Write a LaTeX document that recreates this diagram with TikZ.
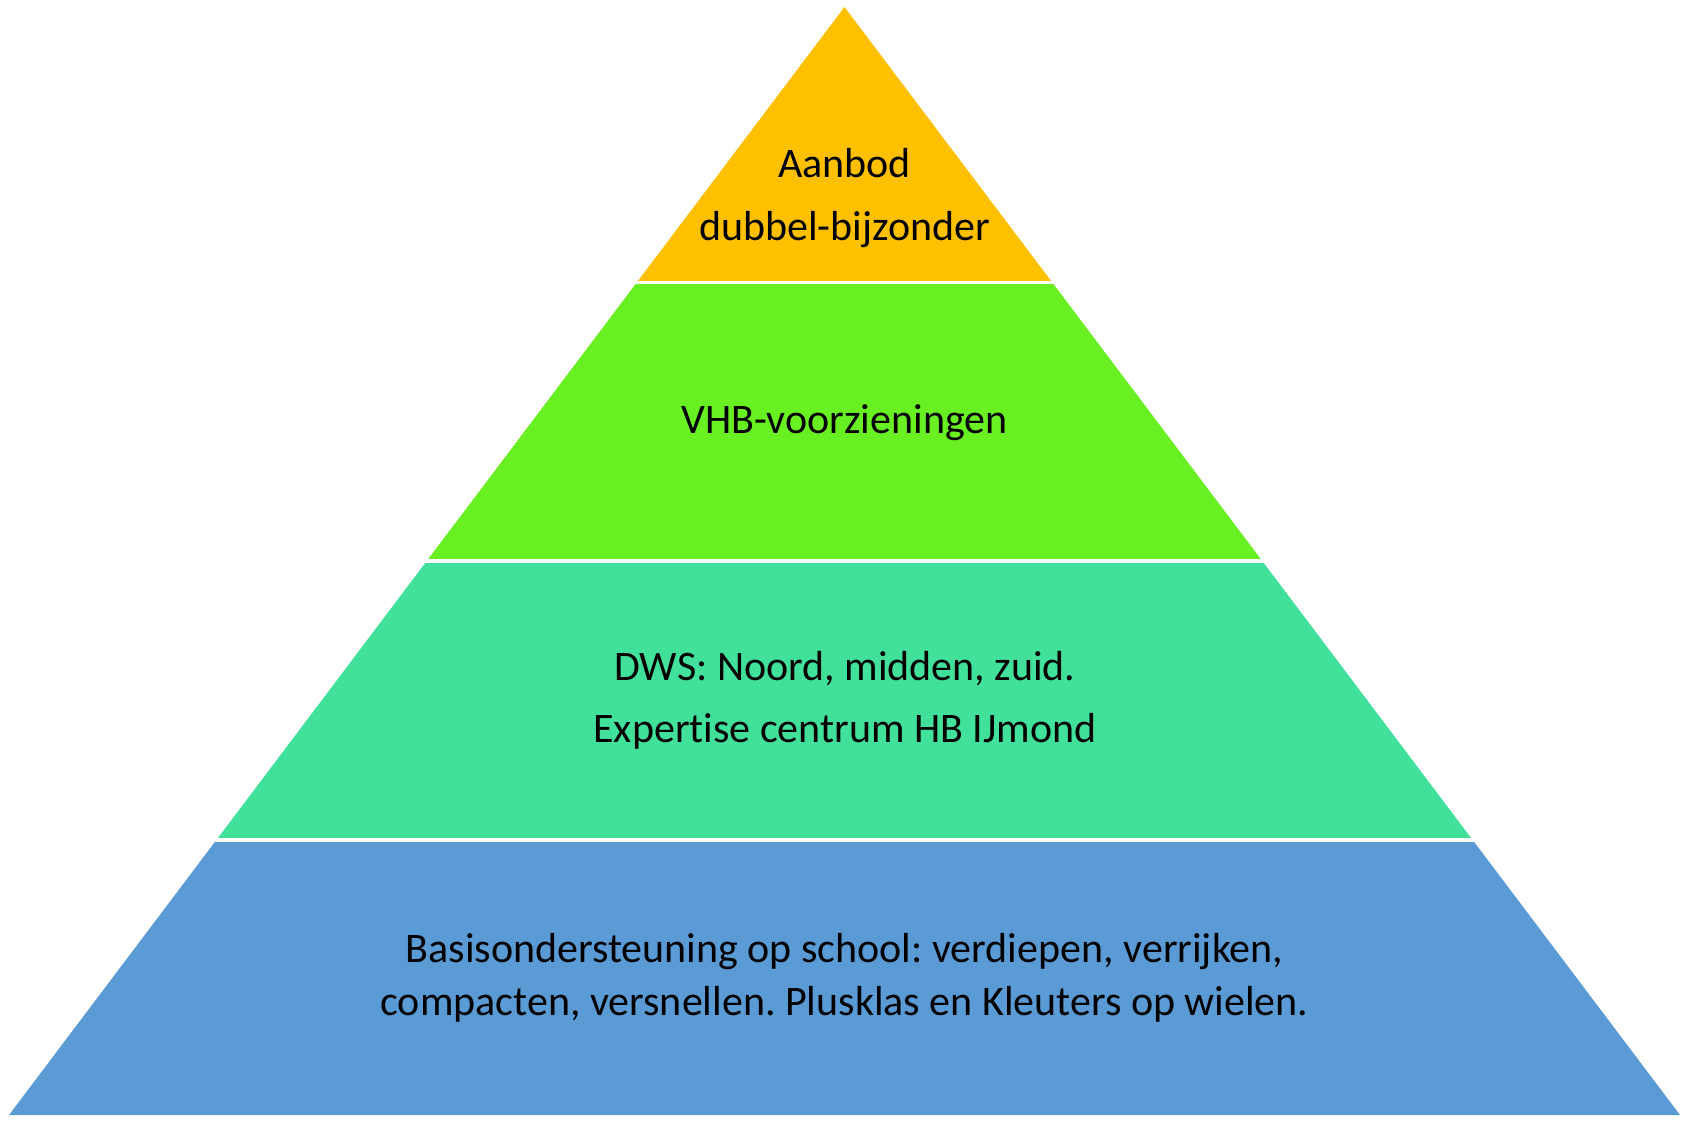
\documentclass[tikz,border=0pt]{standalone}
\usepackage{fontspec}
\setmainfont[Ligatures={NoCommon}]{Carlito}
\frenchspacing
\definecolor{bandA}{RGB}{255,192,0}
\definecolor{bandB}{RGB}{104,240,34}
\definecolor{bandC}{RGB}{66,225,155}
\definecolor{bandD}{RGB}{91,155,213}
\begin{document}
\begin{tikzpicture}[x=0.5pt,y=-0.5pt,
  lbl/.style={anchor=base,inner sep=0pt,font=\fontsize{21}{25}\selectfont\frenchspacing,text=black}]
\useasboundingbox (0,0) rectangle (1690,1120);
\fill[white] (0,0) rectangle (1690,1120);
\coordinate (apex) at (844.5,7);
\coordinate (bl) at (9,1115);
\coordinate (br) at (1680,1115);
\foreach \ya/\yb/\col in {0/280/bandA,284/558/bandB,563/837/bandC,842/1115/bandD}{
  \begin{scope}
    \clip (0,\ya) rectangle (1690,\yb);
    \fill[\col] (apex) -- (bl) -- (br) -- cycle;
  \end{scope}
}
\node[lbl] (a1) at (844.5,177) {Aanbod};
\node[lbl] (a2) at (844.5,240) {dubbel-bijzonder};
\node[lbl] (b1) at (844.5,433) {VHB-voorzieningen};
\node[lbl] (c1) at (845,680) {DWS: Noord, midden, zuid.};
\node[lbl] (c2) at (845,742) {Expertise centrum HB IJmond};
\node[lbl] (d1) at (844.5,962) {Basisondersteuning op school: verdiepen, verrijken,};
\node[lbl] (d2) at (844.5,1015) {compacten, versnellen. Plusklas en Kleuters op wielen.};
\end{tikzpicture}
\end{document}
